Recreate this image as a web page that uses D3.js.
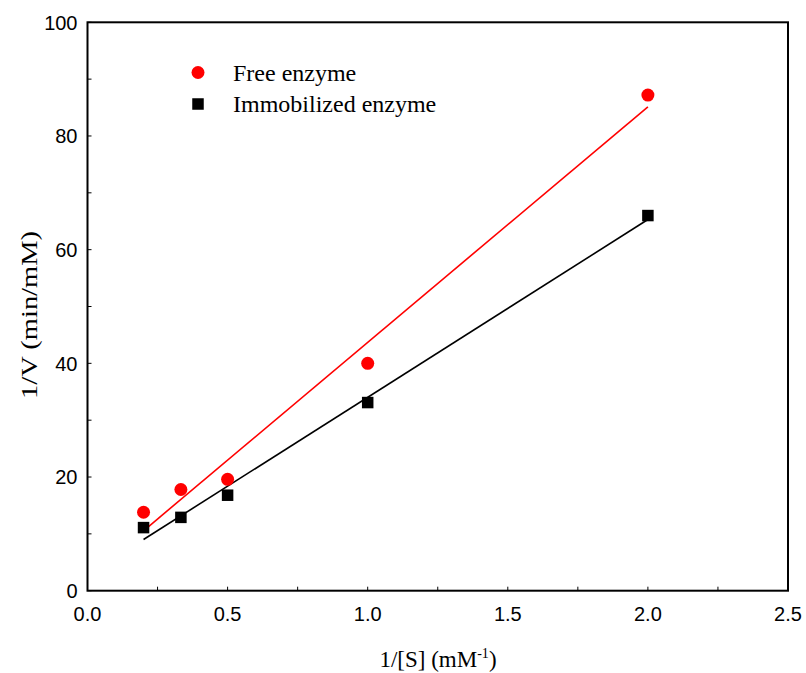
<!DOCTYPE html>
<html>
<head>
<meta charset="utf-8">
<script src="https://cdn.jsdelivr.net/npm/d3@7"></script>
<style>
  html, body { margin: 0; padding: 0; background: #fff; }
  svg { display: block; }
</style>
</head>
<body>
<svg id="chart" width="806" height="673"></svg>
<script>
// Lineweaver–Burk data: 1/[S] (mM^-1) vs 1/V (min/mM)
const invS = [0.2, 0.3333, 0.5, 1.0, 2.0];
const freeEnzyme = [13.8, 17.8, 19.6, 40.0, 87.2];
const immobilizedEnzyme = [11.1, 12.9, 16.8, 33.1, 66.0];
const xTicks = [0, 0.5, 1.0, 1.5, 2.0, 2.5];
const yTicks = [0, 20, 40, 60, 80, 100];
const seriesNames = ["Free enzyme", "Immobilized enzyme"];

const svg = d3.select("#chart");
const plotL = 87.5, plotR = 788, plotT = 22.3, plotB = 590.7;

const x = d3.scaleLinear().domain([0, 2.5]).range([plotL, plotR]);
const y = d3.scaleLinear().domain([0, 100]).range([plotB, plotT]);

// least-squares fit of each series
function fit(xs, ys) {
  const n = xs.length;
  const mx = d3.mean(xs), my = d3.mean(ys);
  let sxy = 0, sxx = 0;
  for (let i = 0; i < n; i++) {
    sxy += (xs[i] - mx) * (ys[i] - my);
    sxx += (xs[i] - mx) * (xs[i] - mx);
  }
  const b = sxy / sxx;
  return { slope: b, intercept: my - b * mx };
}

// minor inward ticks
const tickG = svg.append("g").attr("stroke", "#000").attr("stroke-width", 1);
d3.range(0, 101, 10).forEach(v => {
  tickG.append("line").attr("x1", plotL).attr("x2", plotL + 4)
    .attr("y1", y(v)).attr("y2", y(v));
});
d3.range(0, 2.51, 0.25).forEach(v => {
  tickG.append("line").attr("x1", x(v)).attr("x2", x(v))
    .attr("y1", plotB).attr("y2", plotB - 4);
});

// frame
svg.append("rect")
  .attr("x", plotL).attr("y", plotT)
  .attr("width", plotR - plotL).attr("height", plotB - plotT)
  .attr("fill", "none").attr("stroke", "#000").attr("stroke-width", 2);

// tick labels
svg.append("g").selectAll("text").data(xTicks).join("text")
  .attr("x", d => x(d)).attr("y", plotB + 30)
  .attr("text-anchor", "middle")
  .attr("font-family", "Liberation Sans, Arial, sans-serif")
  .attr("font-size", 20)
  .text(d => d.toFixed(1));

svg.append("g").selectAll("text").data(yTicks).join("text")
  .attr("x", plotL - 10).attr("y", d => y(d))
  .attr("dy", "0.36em")
  .attr("text-anchor", "end")
  .attr("font-family", "Liberation Sans, Arial, sans-serif")
  .attr("font-size", 20)
  .text(d => d);

// axis titles
const xt = svg.append("text")
  .attr("x", 438).attr("y", 667)
  .attr("text-anchor", "middle")
  .attr("font-family", "Liberation Serif, Times New Roman, serif")
  .attr("font-size", 23);
xt.append("tspan").text("1/[S] (mM");
xt.append("tspan").attr("font-size", 14).attr("dy", -9).text("-1");
xt.append("tspan").attr("dy", 9).text(")");

svg.append("text")
  .attr("transform", "translate(37,315) rotate(-90)")
  .attr("text-anchor", "middle")
  .attr("font-family", "Liberation Serif, Times New Roman, serif")
  .attr("font-size", 24)
  .attr("textLength", 168)
  .attr("lengthAdjust", "spacingAndGlyphs")
  .text("1/V (min/mM)");

// regression lines
const xMin = d3.min(invS), xMax = d3.max(invS);
[[freeEnzyme, "#ff0000"], [immobilizedEnzyme, "#000000"]].forEach(([ys, c]) => {
  const f = fit(invS, ys);
  svg.append("line")
    .attr("x1", x(xMin)).attr("y1", y(f.intercept + f.slope * xMin))
    .attr("x2", x(xMax)).attr("y2", y(f.intercept + f.slope * xMax))
    .attr("stroke", c).attr("stroke-width", 1.6);
});

// markers
svg.append("g").selectAll("circle").data(invS.map((v, i) => [v, freeEnzyme[i]])).join("circle")
  .attr("cx", d => x(d[0])).attr("cy", d => y(d[1]))
  .attr("r", 6.5).attr("fill", "#ff0000");

const sq = 11.5;
svg.append("g").selectAll("rect").data(invS.map((v, i) => [v, immobilizedEnzyme[i]])).join("rect")
  .attr("x", d => x(d[0]) - sq / 2).attr("y", d => y(d[1]) - sq / 2)
  .attr("width", sq).attr("height", sq).attr("fill", "#000");

// legend
const lg = svg.append("g");
lg.append("circle").attr("cx", 198).attr("cy", 72.5).attr("r", 6.5).attr("fill", "#ff0000");
lg.append("rect").attr("x", 198 - sq / 2).attr("y", 104 - sq / 2)
  .attr("width", sq).attr("height", sq).attr("fill", "#000");
lg.selectAll("text").data(seriesNames).join("text")
  .attr("x", 233).attr("y", (d, i) => i === 0 ? 80.5 : 112)
  .attr("font-family", "Liberation Serif, Times New Roman, serif")
  .attr("font-size", 24)
  .text(d => d);
</script>
</body>
</html>
